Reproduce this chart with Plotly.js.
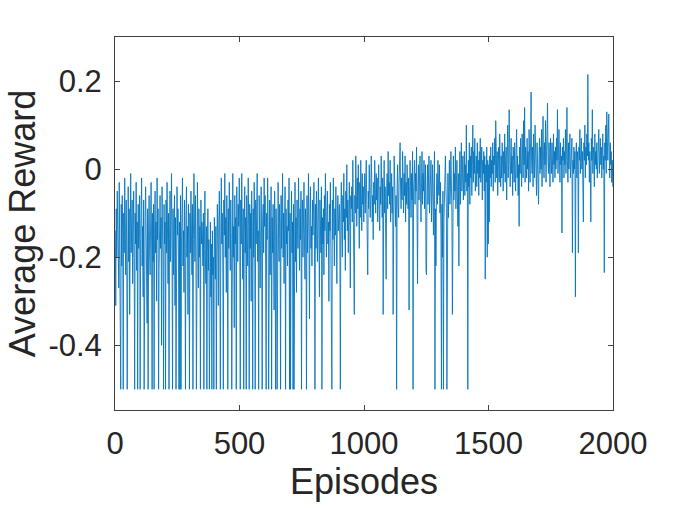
<!DOCTYPE html>
<html>
<head>
<meta charset="utf-8">
<script src="https://cdn.plot.ly/plotly-3.0.1.min.js"></script>
<style>html,body{margin:0;padding:0;background:#fff;}#chart{width:677px;height:508px;}</style>
</head>
<body>
<div id="chart"></div>
<script>
// Average reward, one value every 2 episodes.
var rewardEp0to498 = [
-.14,-.31,-.09,-.2,-.05,-.16,-.11,-.27,-.03,-.18,-.13,-.5,-.08,-.22,-.06,-.15,-.5,-.1,-.19,-.02,-.14,-.24,-.07,-.17,-.5,
-.12,-.04,-.21,-.09,-.33,-.15,-.01,-.19,-.11,-.07,-.26,-.13,-.05,-.2,-.5,-.1,-.17,-.03,-.23,-.12,-.5,-.08,-.18,-.14,-.06,
-.5,-.16,-.1,-.02,-.22,-.13,-.29,-.07,-.5,-.18,-.11,-.04,-.2,-.15,-.35,-.09,-.5,-.14,-.06,-.19,-.24,-.12,-.03,-.17,-.5,
-.1,-.21,-.08,-.5,-.15,-.05,-.19,-.12,-.3,-.02,-.16,-.09,-.5,-.23,-.13,-.06,-.18,-.11,-.4,-.04,-.14,-.2,-.5,-.08,-.17,
-.12,-.5,-.07,-.19,-.03,-.15,-.26,-.1,-.5,-.16,-.05,-.21,-.13,-.01,-.18,-.5,-.09,-.24,-.14,-.06,-.31,-.11,-.5,-.17,-.04,
-.15,-.09,-.2,-.5,-.12,-.5,-.06,-.5,-.17,-.1,-.02,-.22,-.14,-.28,-.07,-.18,-.5,-.11,-.04,-.2,-.13,-.33,-.08,-.16,-.5,
-.1,-.19,-.05,-.14,-.24,-.08,-.5,-.16,-.01,-.12,-.21,-.06,-.18,-.5,-.11,-.03,-.15,-.27,-.09,-.2,-.13,-.5,-.07,-.17,-.12,
-.15,-.22,-.1,-.5,-.18,-.05,-.2,-.26,-.13,-.5,-.19,-.09,-.23,-.16,-.5,-.21,-.12,-.29,-.17,-.5,-.14,-.24,-.2,-.5,-.11,
-.18,-.25,-.13,-.5,-.2,-.08,-.16,-.31,-.12,-.05,-.19,-.5,-.14,-.02,-.17,-.1,-.22,-.5,-.07,-.15,-.01,-.2,-.11,-.28,-.06,
-.14,-.5,-.09,-.18,-.03,-.12,-.23,-.07,-.16,-.5,-.1,-.01,-.2,-.13,-.36,-.06,-.17,-.11,-.5,-.04,-.15,-.21,-.08,-.13,-.02
];
var rewardEp500to998 = [
-.12,-.5,-.07,-.17,-.01,-.14,-.25,-.09,-.5,-.15,-.04,-.19,-.11,-.5,-.06,-.16,-.22,-.02,-.13,-.5,-.08,-.18,-.1,-.3,-.05,
-.15,-.5,-.09,-.2,-.03,-.13,-.5,-.07,-.17,-.11,-.01,-.21,-.14,-.5,-.06,-.16,-.27,-.1,-.04,-.18,-.5,-.12,-.08,-.19,-.02,
-.13,-.06,-.22,-.5,-.1,-.16,-.02,-.12,-.5,-.18,-.07,-.24,-.14,-.04,-.5,-.11,-.19,-.08,-.15,-.32,-.05,-.13,-.5,-.09,-.17,
-.5,-.11,-.03,-.16,-.21,-.08,-.13,-.5,-.06,-.18,-.12,-.01,-.2,-.1,-.26,-.15,-.04,-.5,-.09,-.17,-.13,-.22,-.07,-.14,-.02,
-.5,-.1,-.5,-.15,-.05,-.19,-.12,-.5,-.08,-.5,-.16,-.03,-.21,-.11,-.28,-.07,-.14,-.18,-.02,-.12,-.23,-.09,-.16,-.05,-.5,
-.13,-.07,-.2,-.11,-.03,-.17,-.25,-.09,-.14,-.5,-.06,-.19,-.12,-.01,-.16,-.34,-.1,-.04,-.18,-.13,-.22,-.07,-.15,-.11,-.03,
-.14,-.5,-.08,-.18,-.05,-.12,-.21,-.1,-.02,-.16,-.29,-.07,-.13,-.19,-.04,-.5,-.11,-.17,-.09,-.24,-.06,-.14,-.01,-.12,-.2,
-.1,-.05,-.17,-.12,-.3,-.08,-.14,-.03,-.19,-.11,-.5,-.07,-.16,-.02,-.13,-.22,-.09,-.15,-.04,-.18,-.26,-.1,-.06,-.14,-.12,
-.08,-.17,-.5,-.1,-.03,-.14,-.2,-.06,-.12,-.01,-.16,-.09,-.23,-.05,-.11,.01,-.14,-.07,-.19,-.1,-.03,-.13,-.27,-.06,-.09,
-.04,-.12,.02,-.08,-.15,-.33,-.06,-.1,.03,-.05,-.13,-.02,-.09,.01,-.07,-.18,-.03,-.11,.02,-.06,-.14,-.01,-.08,-.04,-.12
];
var rewardEp1000to1498 = [
-.06,-.01,-.1,-.03,.02,-.08,-.13,-.24,-.05,-.09,.01,-.04,-.11,-.07,.03,-.02,-.12,-.06,-.16,-.03,-.08,.02,-.05,-.1,-.01,
-.07,-.02,-.12,-.05,.01,-.09,-.14,-.04,-.08,.03,-.06,-.11,-.02,-.33,-.07,.02,-.1,-.04,-.15,-.25,-.05,-.01,-.09,.04,-.06,
-.03,-.08,.02,-.12,-.05,-.01,-.1,-.04,-.33,-.07,.03,-.02,-.09,-.13,-.06,-.5,-.04,.01,-.08,-.11,-.03,.02,.06,-.05,-.09,
-.02,-.07,.04,-.04,-.1,-.01,-.06,.03,-.12,-.03,-.08,.01,-.05,-.09,-.02,-.32,-.06,.02,-.04,-.11,-.01,-.07,.04,-.5,-.05,
-.03,.02,-.08,-.01,-.05,.05,-.1,-.26,-.04,.01,-.07,-.02,.03,-.06,-.12,-.03,.04,-.08,-.01,-.05,.02,-.09,-.04,.01,-.23,
-.24,-.05,.01,-.08,-.03,.03,-.1,-.02,-.06,.02,-.12,-.04,.01,-.07,-.15,-.03,.04,-.5,-.09,-.22,-.05,-.01,-.08,.02,-.04,
-.06,.01,-.1,-.03,-.15,-.5,-.08,-.2,-.05,-.5,-.12,-.02,-.07,.03,-.04,-.09,-.5,-.06,-.01,-.11,-.03,.02,-.08,-.05,.04,
-.04,-.1,-.33,-.02,.03,-.07,-.01,-.05,.05,-.09,-.03,.02,-.06,-.13,-.01,-.22,-.04,.04,-.08,-.02,.06,-.05,-.01,.03,-.07,
-.02,.04,-.06,.01,-.03,.1,-.05,-.01,-.5,.02,-.04,.06,-.08,.03,-.02,.05,-.06,.01,.1,-.03,.04,-.01,.07,-.05,.02,
.03,-.04,.06,-.01,.02,-.06,.04,-.02,.07,-.03,.01,.05,-.07,.02,-.01,.04,-.05,.03,-.25,.01,-.03,.05,-.2,.02,-.17
];
var rewardEp1500to1998 = [
.01,-.12,.03,-.02,.05,-.04,.02,-.01,.06,-.05,.03,.01,.07,-.03,.11,.02,-.02,.04,-.06,.01,.05,-.03,.08,0,-.04,
.03,-.02,.06,.01,-.05,.04,-.01,.08,-.03,.02,.05,-.07,.03,.1,-.02,.01,.135,.04,-.04,.02,.07,-.01,.03,-.06,.05,
.02,-.03,.06,0,-.05,.04,.09,-.02,.03,-.06,.01,-.13,.05,-.01,.07,.02,-.04,.08,.03,-.02,.11,.01,.14,-.03,.05,
.02,-.02,.07,0,.04,-.05,.09,.01,-.03,.06,.175,.02,-.01,.05,-.04,.08,.03,-.02,.1,0,.04,-.06,.06,.01,-.03,
-.08,.03,.07,-.01,.05,0,.09,-.04,.04,.12,.02,-.02,.06,.01,.11,-.03,.04,.08,.15,.02,-.01,.06,.03,-.04,.07,
.03,-.01,.06,.02,-.03,.08,.01,.04,-.02,.05,0,.07,.02,.135,-.01,.04,.09,.02,-.03,.06,.01,.03,-.145,.05,.02,
.07,-.02,.04,.01,.09,-.01,.05,.14,.02,-.03,.06,0,.04,.08,-.02,.03,.01,.07,-.19,.02,-.01,.05,0,.04,-.29,
.03,.06,-.02,.04,.01,-.19,.05,.02,.09,-.01,.03,.07,0,.04,-.04,-.12,.06,.02,.1,-.02,.05,.01,.08,.03,.215,
.02,.06,-.03,.04,0,-.12,.07,.02,.135,-.01,.05,.03,-.04,.08,.01,.04,0,.06,-.02,.05,.02,.09,-.01,.03,.07,
.01,.05,-.02,.04,.08,0,.03,-.235,.06,.02,.1,-.01,.13,.05,.02,.07,.125,.03,-.02,.06,.01,.04,-.03,.02,-.04
];
var xTickVals = [0, 500, 1000, 1500, 2000];
var xTickText = ['0', '500', '1000', '1500', '2000'];
var yTickVals = [-0.4, -0.2, 0, 0.2];
var yTickText = ['-0.4', '-0.2', '0', '0.2'];

var reward = rewardEp0to498.concat(rewardEp500to998, rewardEp1000to1498, rewardEp1500to1998);
var episodes = [];
for (var i = 0; i < reward.length; i++) { episodes.push(1 + 2 * i); }

var font = '"Liberation Sans", Arial, Helvetica, sans-serif';
var axisColor = '#404040';

var trace = {
  x: episodes, y: reward, type: 'scatter', mode: 'lines',
  line: {color: '#0072BD', width: 0.85}, hoverinfo: 'skip'
};

var layout = {
  width: 677, height: 508,
  margin: {l: 115, r: 64, t: 37, b: 98, pad: 0},
  paper_bgcolor: '#ffffff', plot_bgcolor: '#ffffff',
  showlegend: false,
  xaxis: {
    range: [0, 2000], tickmode: 'array', tickvals: xTickVals, ticktext: xTickText,
    ticks: 'inside', ticklen: 5, tickwidth: 1, tickcolor: axisColor,
    showline: true, linecolor: axisColor, linewidth: 1, mirror: 'ticks',
    showgrid: false, zeroline: false,
    tickfont: {family: font, size: 31, color: '#262626'},
    ticklabelstandoff: 6,
    title: {text: 'Episodes', font: {family: font, size: 36, color: '#262626'}, standoff: 8},
    automargin: false
  },
  yaxis: {
    range: [-0.547, 0.3], tickmode: 'array', tickvals: yTickVals, ticktext: yTickText,
    ticks: 'inside', ticklen: 5, tickwidth: 1, tickcolor: axisColor,
    showline: true, linecolor: axisColor, linewidth: 1, mirror: 'ticks',
    showgrid: false, zeroline: false,
    tickfont: {family: font, size: 31, color: '#262626'},
    ticklabelstandoff: 6,
    title: {text: 'Average Reward', font: {family: font, size: 36, color: '#262626'}, standoff: 1},
    automargin: false
  }
};

Plotly.newPlot('chart', [trace], layout, {displayModeBar: false, staticPlot: true});
</script>
</body>
</html>
